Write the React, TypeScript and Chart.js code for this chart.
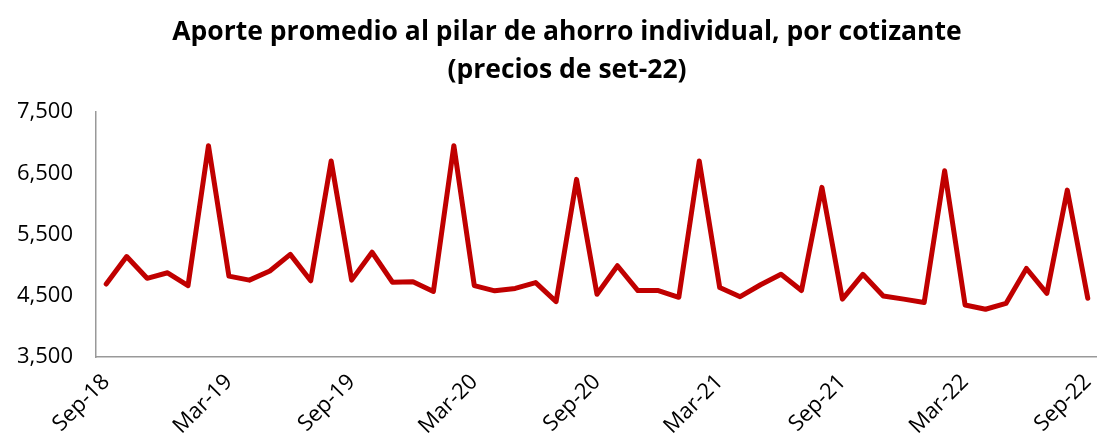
import React, { useEffect, useRef } from "react";
import { Chart, registerables } from "chart.js";

Chart.register(...registerables);

const TITLE_LINES = [
  "Aporte promedio al pilar de ahorro individual, por cotizante",
  "(precios de set-22)",
];

const MONTHS = [
  "Sep-18", "Oct-18", "Nov-18", "Dec-18", "Jan-19", "Feb-19", "Mar-19", "Apr-19", "May-19", "Jun-19", "Jul-19", "Aug-19",
  "Sep-19", "Oct-19", "Nov-19", "Dec-19", "Jan-20", "Feb-20", "Mar-20", "Apr-20", "May-20", "Jun-20", "Jul-20", "Aug-20",
  "Sep-20", "Oct-20", "Nov-20", "Dec-20", "Jan-21", "Feb-21", "Mar-21", "Apr-21", "May-21", "Jun-21", "Jul-21", "Aug-21",
  "Sep-21", "Oct-21", "Nov-21", "Dec-21", "Jan-22", "Feb-22", "Mar-22", "Apr-22", "May-22", "Jun-22", "Jul-22", "Aug-22",
  "Sep-22",
];

const APORTE = [
  4690, 5140, 4785, 4875, 4665, 6950, 4820, 4755, 4905, 5175, 4745, 6700,
  4755, 5210, 4720, 4730, 4570, 6950, 4665, 4580, 4620, 4715, 4405, 6400,
  4525, 4990, 4585, 4585, 4475, 6700, 4635, 4485, 4680, 4850, 4585, 6270,
  4445, 4850, 4495, 4445, 4390, 6540, 4350, 4280, 4375, 4945, 4540, 6225,
  4460,
];

const Y_MIN = 3500;
const Y_MAX = 7500;
const Y_STEP = 1000;
const LABEL_EVERY = 6;

const FONT = "'Open Sans', 'Noto Sans', sans-serif";

export default function App() {
  const ref = useRef<HTMLCanvasElement | null>(null);

  useEffect(() => {
    if (!ref.current) return;
    const chart = new Chart(ref.current, {
      type: "line",
      data: {
        labels: MONTHS,
        datasets: [
          {
            data: APORTE,
            borderColor: "#C00000",
            backgroundColor: "#C00000",
            borderWidth: 5,
            pointRadius: 0,
            tension: 0,
            borderJoinStyle: "round",
            borderCapStyle: "round",
          },
        ],
      },
      options: {
        animation: false,
        responsive: true,
        maintainAspectRatio: false,
        layout: { padding: { left: 0, right: 36, top: 112, bottom: 0 } },
        plugins: {
          legend: { display: false },
          tooltip: { enabled: false },
          title: { display: false },
        },
        scales: {
          x: {
            offset: true,
            grid: { display: false, drawTicks: false },
            border: { display: true, color: "#999", width: 1.5 },
            ticks: {
              autoSkip: false,
              minRotation: 45,
              maxRotation: 45,
              padding: 12,
              color: "#000",
              font: { family: FONT, size: 22 },
              callback: (_v: any, i: number) => (i % LABEL_EVERY === 0 ? MONTHS[i] : ""),
            },
            afterFit: (s: any) => {
              s.height = 90;
            },
          },
          y: {
            min: Y_MIN,
            max: Y_MAX,
            grid: { display: false, drawTicks: false },
            border: { display: true, color: "#999", width: 1.5 },
            ticks: {
              stepSize: Y_STEP,
              padding: 23,
              color: "#000",
              font: { family: FONT, size: 22 },
              callback: (v: any) => Number(v).toLocaleString("en-US"),
            },
            afterFit: (s: any) => {
              s.width = 96;
            },
          },
        },
      },
    });
    return () => chart.destroy();
  }, []);

  return (
    <div style={{ position: "fixed", left: 0, top: 0, width: 1097, height: 447, overflow: "hidden", background: "#fff" }}>
      <div
        style={{
          position: "absolute",
          top: 11,
          left: 167,
          width: 800,
          textAlign: "center",
          fontFamily: FONT,
          fontWeight: "bold",
          fontSize: 26.5,
          lineHeight: "38px",
          color: "#000",
          whiteSpace: "nowrap",
          zIndex: 1,
        }}
      >
        {TITLE_LINES.map((t) => (
          <div key={t}>{t}</div>
        ))}
      </div>
      <div style={{ position: "relative", width: 1134, height: 447 }}>
        <canvas ref={ref} />
      </div>
    </div>
  );
}
